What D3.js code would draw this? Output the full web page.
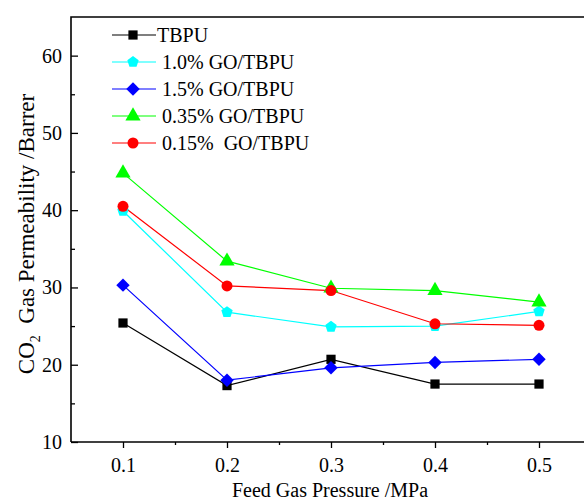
<!DOCTYPE html>
<html>
  <head>
    <meta charset="UTF-8" />
    <script src="https://cdnjs.cloudflare.com/ajax/libs/d3/7.8.5/d3.min.js"></script>
    <style>
      body { margin: 0; padding: 0; background: #fff; }
      svg { display: block; }
      text { font-family: "Liberation Serif", "Times New Roman", "DejaVu Serif", serif; }
      .domain, .tick line { stroke: #000; }
    </style>
  </head>
  <body>
    <svg id="chart" width="584" height="501"></svg>
    <script>
      // feed gas pressure (MPa)
      const pressures = [0.1, 0.2, 0.3, 0.4, 0.5];

      // CO2 permeability (Barrer)
      const tbpu     = [25.4, 17.3, 20.7, 17.5, 17.5];
      const go10     = [39.9, 26.8, 24.9, 25.0, 26.9];
      const go15     = [30.3, 18.0, 19.6, 20.3, 20.7];
      const go035    = [44.8, 33.4, 29.9, 29.6, 28.1];
      const go015    = [40.5, 30.2, 29.6, 25.3, 25.1];

      const seriesNames = ["TBPU", "1.0% GO/TBPU", "1.5% GO/TBPU", "0.35% GO/TBPU", "0.15%  GO/TBPU"];
      const seriesValues = [tbpu, go10, go15, go035, go015];
      const colors = ["#000000", "#00ffff", "#0000ff", "#00ff00", "#ff0000"];
      const shapes = ["square", "pentagon", "diamond", "triangle", "circle"];

      const yTicks = [10, 20, 30, 40, 50, 60];

      const svg = d3.select("#chart");
      const mLeft = 71, mRight = 600, mTop = 17, mBottom = 442;
      const serif = "Liberation Serif";

      const x = d3.scaleLinear().domain([0.05, 0.55]).range([mLeft, mLeft + 1040 * 0.5]);
      const y = d3.scaleLinear().domain([10, 65]).range([mBottom, mTop]);

      // frame (top line, right side runs past the window edge)
      svg.append("path")
        .attr("d", `M${mLeft},${mBottom} V${mTop} H${mRight}`)
        .attr("fill", "none").attr("stroke", "#000").attr("stroke-width", 1.6);

      // x axis, ticks outward
      const xAxis = svg.append("g").attr("transform", `translate(0,${mBottom})`)
        .call(d3.axisBottom(x).tickValues(pressures).tickSize(6).tickPadding(10).tickFormat(d3.format(".1f")));
      xAxis.select(".domain").remove();
      xAxis.selectAll(".tick line").attr("stroke-width", 1.3);
      svg.append("g").attr("transform", `translate(0,${mBottom})`)
        .call(d3.axisBottom(x).tickValues([0.15, 0.25, 0.35, 0.45, 0.55]).tickSize(3).tickFormat(""))
        .call(g => g.select(".domain").remove())
        .selectAll(".tick line").attr("stroke-width", 1.3);
      svg.append("line").attr("x1", mLeft).attr("x2", mRight).attr("y1", mBottom).attr("y2", mBottom)
        .attr("stroke", "#000").attr("stroke-width", 1.6);

      // y axis, ticks inward
      const yAxis = svg.append("g").attr("transform", `translate(${mLeft},0)`)
        .call(d3.axisLeft(y).tickValues(yTicks).tickSize(-7));
      yAxis.select(".domain").remove();
      yAxis.selectAll(".tick line").attr("stroke-width", 1.3);
      yAxis.selectAll(".tick text").attr("x", -9);
      svg.append("g").attr("transform", `translate(${mLeft},0)`)
        .call(d3.axisLeft(y).tickValues([15, 25, 35, 45, 55]).tickSize(-4).tickFormat(""))
        .call(g => g.select(".domain").remove())
        .selectAll(".tick line").attr("stroke-width", 1.3);

      svg.selectAll("g").attr("font-family", serif).attr("font-size", 20);
      svg.selectAll(".tick text").attr("fill", "#000");

      // axis titles
      svg.append("text")
        .attr("x", 330).attr("y", 497)
        .attr("text-anchor", "middle").attr("font-size", 20).attr("font-family", serif)
        .text("Feed Gas Pressure /MPa");

      const yt = svg.append("text")
        .attr("transform", "translate(34,234) rotate(-90)")
        .attr("text-anchor", "middle").attr("font-size", 23).attr("font-family", serif)
        .style("white-space", "pre");
      yt.append("tspan").text("CO");
      yt.append("tspan").attr("font-size", 14).attr("dy", 6).text("2");
      yt.append("tspan").attr("dy", -6).text("  Gas Permeability /Barrer");

      const symbolFor = {
        square: d3.symbol().type(d3.symbolSquare).size(85),
        circle: d3.symbol().type(d3.symbolCircle).size(95),
        triangle: d3.symbol().type(d3.symbolTriangle).size(100),
        diamond: d3.symbol().type(d3.symbolDiamond2).size(115),
        pentagon: null
      };
      function pentagonPath(r) {
        const pts = d3.range(5).map(i => {
          const a = -Math.PI / 2 + i * 2 * Math.PI / 5;
          return [r * Math.cos(a), r * Math.sin(a)];
        });
        return "M" + pts.map(p => p.join(",")).join("L") + "Z";
      }
      function markerPath(shape) {
        return shape === "pentagon" ? pentagonPath(6) : symbolFor[shape]();
      }

      const line = d3.line().x((d, i) => x(pressures[i])).y(d => y(d));

      seriesValues.forEach((vals, s) => {
        svg.append("path")
          .datum(vals)
          .attr("d", line)
          .attr("fill", "none")
          .attr("stroke", colors[s])
          .attr("stroke-width", 1.2);
      });
      seriesValues.forEach((vals, s) => {
        svg.append("g").selectAll("path")
          .data(vals)
          .join("path")
          .attr("transform", (d, i) => `translate(${x(pressures[i])},${y(d)})`)
          .attr("d", markerPath(shapes[s]))
          .attr("fill", colors[s]);
      });

      // legend
      const legend = svg.append("g");
      const rowY = [35, 62, 89, 116, 143];
      seriesNames.forEach((name, s) => {
        const g = legend.append("g").attr("transform", `translate(0,${rowY[s]})`);
        g.append("line").attr("x1", 112).attr("x2", 156).attr("y1", 0).attr("y2", 0)
          .attr("stroke", colors[s]).attr("stroke-width", 1.2);
        g.append("path").attr("transform", "translate(133,0)")
          .attr("d", markerPath(shapes[s])).attr("fill", colors[s]);
        g.append("text")
          .attr("x", s === 0 ? 157 : 162).attr("y", 7)
          .attr("font-size", 20).attr("font-family", serif)
          .style("white-space", "pre")
          .text(name);
      });
    </script>
  </body>
</html>
